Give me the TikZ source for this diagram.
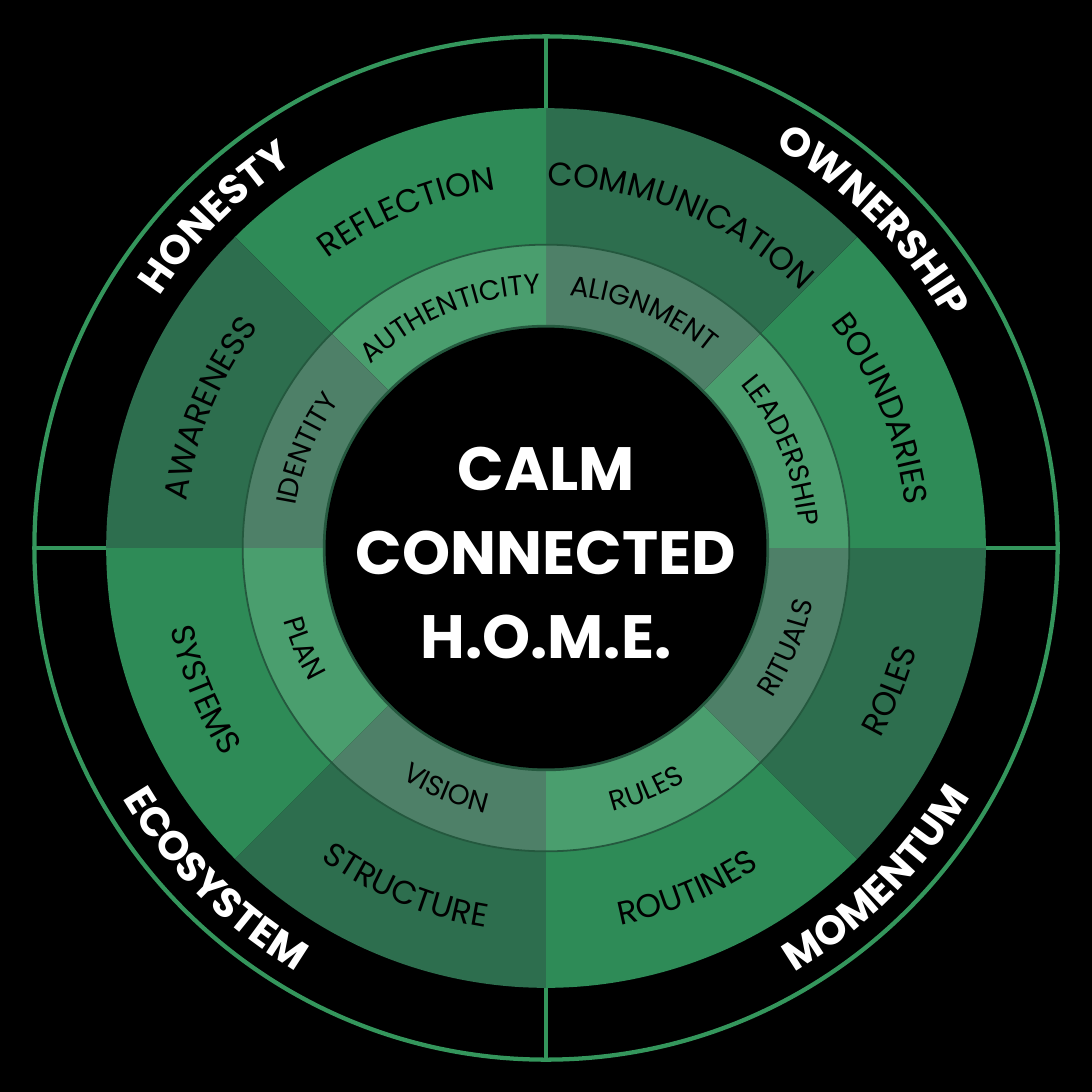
\documentclass[tikz,border=0pt]{standalone}
\usepackage{fontspec}
\setmainfont{Poppins}
\usetikzlibrary{decorations.text}

\definecolor{ringlight}{RGB}{46,139,87}
\definecolor{ringdark}{RGB}{45,110,78}
\definecolor{innerlight}{RGB}{74,158,110}
\definecolor{innerdark}{RGB}{78,128,104}
\definecolor{rimgreen}{RGB}{52,150,92}

\tikzset{
  arclabel/.style={decorate, decoration={text along path, text align=center,
      text={|\fontsize{9.2}{10}\selectfont|#1}}},
  smalllabel/.style={decorate, decoration={text along path, text align=center,
      text={|\fontsize{7.9}{8}\selectfont|#1}}},
  biglabel/.style={decorate, decoration={text along path, text align=center,
      text={|\color{white}\fontsize{11.5}{12}\selectfont\bfseries|#1}}},
}

\begin{document}
\begin{tikzpicture}[x=0.01cm, y=0.01cm]
\fill[black] (0,0) rectangle (1080,1080);
\useasboundingbox (0,0) rectangle (1080,1080);
\begin{scope}[shift={(540,538)}]
% outer rim
\draw[rimgreen, line width=1.2pt] (0,0) circle (506);
\foreach \a in {0,90,180,270}
  \draw[rimgreen, line width=1.2pt] (\a:435) -- (\a:506);
% outer wedges
\foreach \a/\c in {0/ringlight,45/ringdark,90/ringlight,135/ringdark,180/ringlight,225/ringdark,270/ringlight,315/ringdark}
  \fill[\c] (\a:300) arc (\a:\a+45:300) -- (\a+45:435) arc (\a+45:\a:435) -- cycle;
% inner wedges
\foreach \a/\c in {0/innerlight,45/innerdark,90/innerlight,135/innerdark,180/innerlight,225/innerdark,270/innerlight,315/innerdark}
  \fill[\c] (\a:218) arc (\a:\a+45:218) -- (\a+45:300) arc (\a+45:\a:300) -- cycle;
\draw[ringdark!80!black, line width=0.5pt] (0,0) circle (300);
\draw[ringdark!80!black, line width=1pt] (0,0) circle (219);
\fill[black] (0,0) circle (218);

% outer ring labels: upper half clockwise, lower half counter-clockwise
\path[arclabel=REFLECTION] (135:358) arc (135:90:358);
\path[arclabel=COMMUNICATION] (90:358) arc (90:45:358);
\path[arclabel=BOUNDARIES] (45:358) arc (45:0:358);
\path[arclabel=AWARENESS] (180:358) arc (180:135:358);
\path[arclabel=ROLES] (315:380) arc (315:360:380);
\path[arclabel=ROUTINES] (270:380) arc (270:315:380);
\path[arclabel=STRUCTURE] (225:380) arc (225:270:380);
\path[arclabel=SYSTEMS] (180:380) arc (180:225:380);

% inner ring labels
\path[smalllabel=AUTHENTICITY] (135:251) arc (135:90:251);
\path[smalllabel=ALIGNMENT] (90:251) arc (90:45:251);
\path[smalllabel=LEADERSHIP] (45:251) arc (45:0:251);
\path[smalllabel=IDENTITY] (180:251) arc (180:135:251);
\path[smalllabel=RITUALS] (315:269) arc (315:360:269);
\path[smalllabel=RULES] (270:269) arc (270:315:269);
\path[smalllabel=VISION] (225:269) arc (225:270:269);
\path[smalllabel=PLAN] (180:269) arc (180:225:269);

% band labels
\path[biglabel=HONESTY] (170:456) arc (170:100:456);
\path[biglabel=OWNERSHIP] (80:456) arc (80:10:456);
\path[biglabel=MOMENTUM] (280:486) arc (280:350:486);
\path[biglabel=ECOSYSTEM] (190:486) arc (190:260:486);

\node[text=white, font=\fontsize{17.2}{21.5}\selectfont\bfseries, align=center] (title) at (0,-5)
  {CALM\\[2pt]CONNECTED\\[2pt]H.O.M.E.};
\end{scope}
\end{tikzpicture}
\end{document}
